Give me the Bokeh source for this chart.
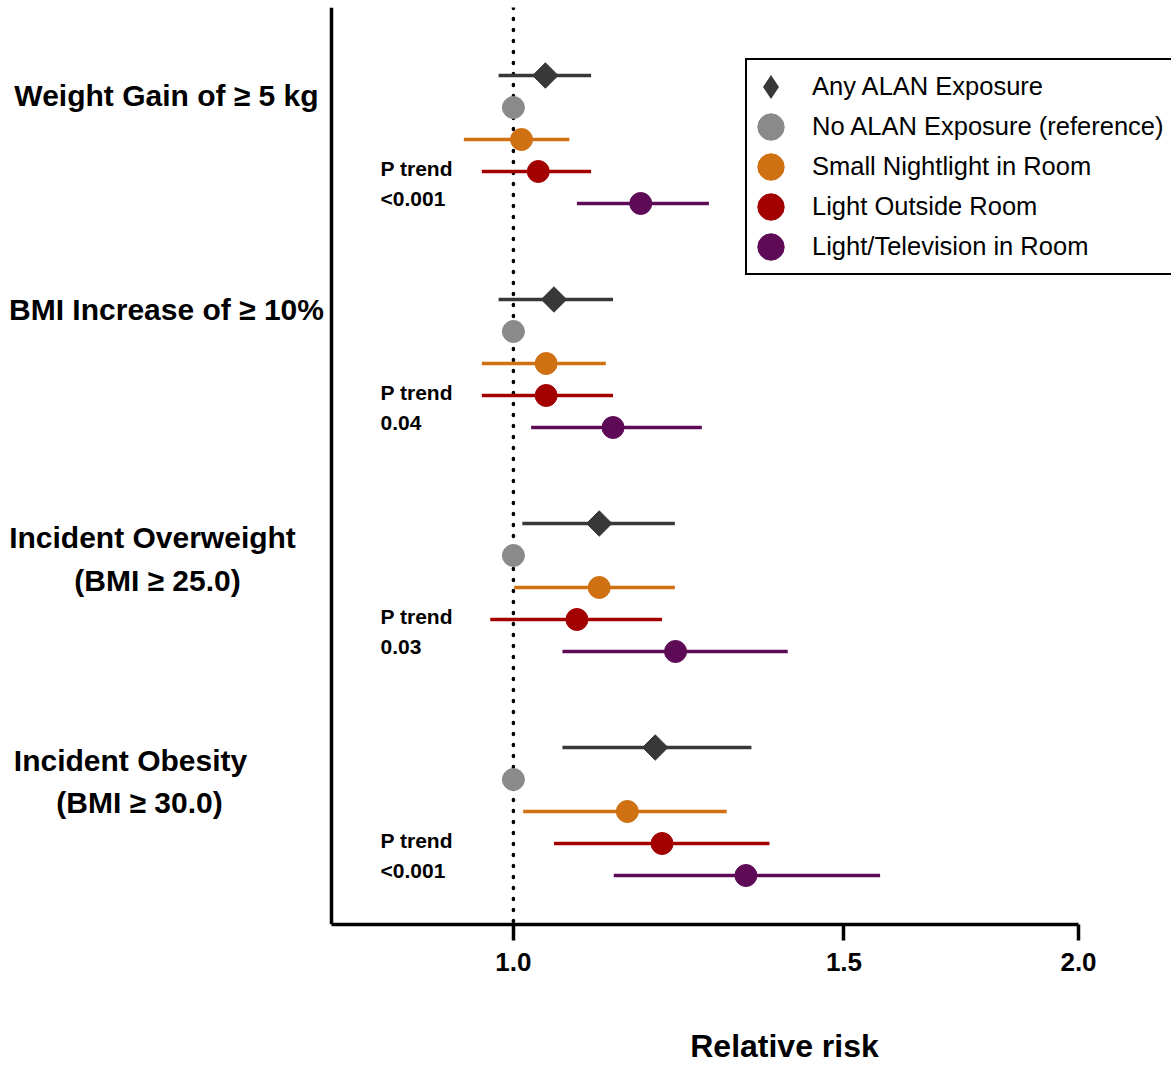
import math
from bokeh.plotting import figure
from bokeh.models import (ColumnDataSource, Range1d, FixedTicker, PrintfTickFormatter,
                          Span, Label, Legend, LegendItem, LogAxis)
from bokeh.embed import file_html
from bokeh.resources import INLINE

# ---------------- data ----------------
outcome_lines = [["Weight Gain of \u2265 5 kg"],
                 ["BMI Increase of \u2265 10%"],
                 ["Incident Overweight", "(BMI \u2265 25.0)"],
                 ["Incident Obesity", "(BMI \u2265 30.0)"]]
p_trend = ["<0.001", "0.04", "0.03", "<0.001"]

series_names = ["Any ALAN Exposure", "No ALAN Exposure (reference)",
                "Small Nightlight in Room", "Light Outside Room",
                "Light/Television in Room"]

any_rr = [1.040, 1.051, 1.111, 1.190]
any_lo = [0.982, 0.982, 1.011, 1.062]
any_hi = [1.100, 1.130, 1.219, 1.339]

ref_rr = [1.0, 1.0, 1.0, 1.0]

small_rr = [1.010, 1.041, 1.111, 1.150]
small_lo = [0.941, 0.962, 1.001, 1.012]
small_hi = [1.071, 1.120, 1.219, 1.299]

out_rr = [1.031, 1.041, 1.081, 1.200]
out_lo = [0.962, 0.962, 0.972, 1.051]
out_hi = [1.100, 1.130, 1.200, 1.369]

tv_rr = [1.169, 1.130, 1.220, 1.330]
tv_lo = [1.081, 1.022, 1.062, 1.131]
tv_hi = [1.271, 1.260, 1.400, 1.568]

x_ticks = [1.0, 1.5, 2.0]
x_title = "Relative risk"

# ---------------- layout / style ----------------
FONT = "Liberation Sans"
W, H = 1171, 1067
AX0, AX1 = 0.8, 2.0            # visible axis extent
GROUP_STEP = 7
colors = ["#383838", "#8a8a8a", "#CF7012", "#A30000", "#5E0A57"]

AXL_PX, AXR_PX = 331, 1078     # canvas px of the axis ends
PX_PER_LN = (AXR_PX - AXL_PX) / math.log(AX1 / AX0)
TOP, BOTTOM = 7, 924           # frame top / bottom (canvas px)
ROW0_PY, ROW_PX = 75, 32


def px2x(px):
    return AX0 * math.exp((px - AXL_PX) / PX_PER_LN)


def py2row(py):
    return (py - ROW0_PY) / ROW_PX


x_start, x_end = px2x(0), px2x(W)
y_top = py2row(TOP)
y_bottom = py2row(BOTTOM)

p = figure(width=W, height=H, x_axis_type="log", y_axis_location=None,
           x_range=Range1d(x_start, x_end), y_range=Range1d(y_bottom, y_top),
           output_backend="svg", toolbar_location=None,
           min_border_left=0, min_border_right=0,
           min_border_top=TOP, min_border_bottom=H - BOTTOM)
p.outline_line_color = None
p.grid.visible = False
p.background_fill_color = "white"

# left axis line at the start of the axis and reference line at RR = 1
p.add_layout(Span(location=AX0, dimension="height", line_color="black",
                  line_width=3.5, level="underlay"))
p.add_layout(Span(location=1.0, dimension="height", line_color="black",
                  line_width=3.5, line_dash="1 10", line_cap="round", level="underlay"))

series = [(any_rr, any_lo, any_hi), (ref_rr, None, None), (small_rr, small_lo, small_hi),
          (out_rr, out_lo, out_hi), (tv_rr, tv_lo, tv_hi)]

items = []
for k, (rr, lo, hi) in enumerate(series):
    rows = [g * GROUP_STEP + k for g in range(len(rr))]
    src = ColumnDataSource(dict(rr=rr, row=rows,
                                lo=lo if lo else rr, hi=hi if hi else rr))
    if lo is not None:
        p.segment(x0="lo", x1="hi", y0="row", y1="row", source=src,
                  line_color=colors[k], line_width=3.5)
    if k == 0:
        p.scatter(x="rr", y="row", source=src, marker="square", angle=math.pi / 4,
                  size=18, fill_color=colors[k], line_color=colors[k])
        # legend swatch (zero size in the plot, a diamond in the legend)
        r = p.scatter(x="rr", y="row", source=src, marker="diamond", size=0,
                      fill_color=colors[k], line_color=colors[k],
                      line_width=6, line_join="miter")
    else:
        r = p.ellipse(x="rr", y="row", width=22, height=22,
                      width_units="screen", height_units="screen", source=src,
                      fill_color=colors[k], line_color=colors[k])
    items.append(LegendItem(label=series_names[k], renderers=[r]))

legend = Legend(items=items, location=(745, BOTTOM - 275),
                border_line_color="black", border_line_width=2, border_line_alpha=1,
                background_fill_color="white", background_fill_alpha=1,
                padding=7, spacing=1, margin=0,
                glyph_width=33, glyph_height=39, label_standoff=25, label_height=20,
                label_text_font=FONT, label_text_font_size="25.5px", label_text_color="black")
p.add_layout(legend)

# bottom axis
xa = p.xaxis[0]
xa.bounds = (AX0, AX1)
xa.ticker = FixedTicker(ticks=x_ticks, minor_ticks=[])
xa.formatter = PrintfTickFormatter(format="%.1f")
xa.axis_line_width = 3.5
xa.axis_line_color = "black"
xa.major_tick_line_width = 3.5
xa.major_tick_line_color = "black"
xa.major_tick_out = 16
xa.major_tick_in = 0
xa.minor_tick_line_color = None
xa.major_label_standoff = 12
xa.major_label_text_font = FONT
xa.major_label_text_font_style = "bold"
xa.major_label_text_font_size = "26px"
xa.major_label_text_color = "black"

# axis title, placed right of centre as in the original
title_ax = LogAxis(ticker=FixedTicker(ticks=[px2x(784)], minor_ticks=[]),
                   formatter=PrintfTickFormatter(format=x_title),
                   axis_line_color=None, major_tick_line_color=None,
                   minor_tick_line_color=None, major_tick_out=0, major_tick_in=0,
                   major_label_standoff=54, major_label_text_font=FONT,
                   major_label_text_font_style="bold", major_label_text_font_size="32px",
                   major_label_text_color="black")
p.add_layout(title_ax, "below")

# outcome labels (canvas-pixel centre of each line)
label_pos = [[(166, 95)], [(166, 309)], [(152, 537), (157, 580)], [(130, 760), (139, 802)]]
for lines, pos in zip(outcome_lines, label_pos):
    for txt, (px, py) in zip(lines, pos):
        p.add_layout(Label(x=px2x(px), y=py2row(py), text=txt, text_align="center",
                           text_baseline="middle", text_font=FONT, text_font_style="bold",
                           text_font_size="30px", text_color="black"))

# P trend labels
for g, pt in enumerate(p_trend):
    base = g * GROUP_STEP
    for txt, dy in (("P trend", 2.9), (pt, 3.85)):
        p.add_layout(Label(x=px2x(380), y=base + dy, text=txt, text_align="left",
                           text_baseline="middle", text_font=FONT, text_font_style="bold",
                           text_font_size="21px", text_color="black"))

open("out.html", "w").write(file_html(p, INLINE))
